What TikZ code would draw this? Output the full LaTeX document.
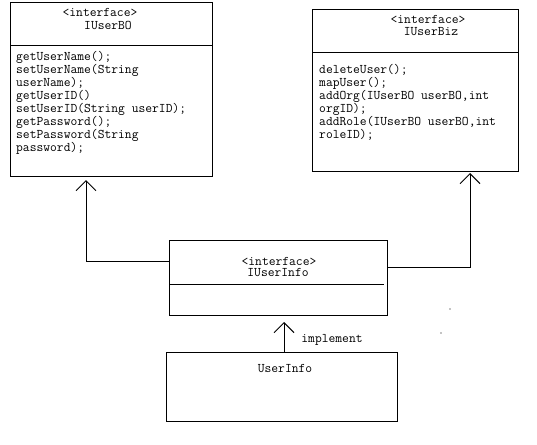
\documentclass[tikz,border=0pt]{standalone}
\usepackage{fontspec}
\usepackage{tikz}
\usetikzlibrary{calc}
\usetikzlibrary{arrows.meta}

\tikzset{
  umlbox/.style={draw, line width=1pt, rectangle, anchor=north west, inner sep=0pt},
  umltext/.style={font=\ttfamily\fontsize{13.2}{13}\selectfont, inner sep=0pt},
  umlops/.style={umltext, anchor=north west, align=left},
  impl/.style={line width=1pt, -{Straight Barb[length=10pt,width=20pt,line width=1pt]}}
}

\begin{document}
\begin{tikzpicture}[x=1pt,y=-1pt]
        \useasboundingbox (0,0) rectangle (537,444);

        \node[umlbox, minimum width=202pt, minimum height=174pt] (bo) at (10,2) {};
        \node[umlbox, minimum width=206pt, minimum height=162pt] (biz) at (312,9) {};
        \node[umlbox, minimum width=218pt, minimum height=75pt] (info) at (169,240) {};
        \node[umlbox, minimum width=231pt, minimum height=69pt] (user) at (166,352) {};

        \draw[line width=1pt] (bo.west |- 0,46) -- (bo.east |- 0,46);
        \draw[line width=1pt] (biz.west |- 0,52) -- (biz.east |- 0,52);
        \draw[line width=1pt] (info.west |- 0,284) -- (384,284);

        \node[umltext] (boStereo) at (100,12) {<interface>};
        \node[umltext] (boName) at (108,25) {IUserBO};
        \node[umlops] (boOps) at (16,51) {getUserName();\\setUserName(String\\userName);\\getUserID()\\setUserID(String userID);\\getPassword();\\setPassword(String\\password);};

        \node[umltext] (bizStereo) at (428,19) {<interface>};
        \node[umltext] (bizName) at (431,32) {IUserBiz};
        \node[umlops] (bizOps) at (319,64) {deleteUser();\\mapUser();\\addOrg(IUserBO userBO,int\\orgID);\\addRole(IUserBO userBO,int\\roleID);};

        \node[umltext] (infoStereo) at (279,261) {<interface>};
        \node[umltext] (infoName) at (278,273) {IUserInfo};

        \node[umltext] (userName) at (285,369) {UserInfo};

        \coordinate (boTip) at (86,180);
        \coordinate (bizTip) at (470,173);
        \coordinate (infoTip) at (284,322);

        \draw[impl] ([yshift=-21pt]info.north west) -| (boTip);
        \draw[impl] ([yshift=-27pt]info.north east) -| (bizTip);
        \draw[impl] (user.north -| infoTip) -- (infoTip);

        \node[umltext] (implLbl) at (332,340) {implement};

        \fill (450,309) circle (0.6pt);
        \fill (441,333) circle (0.6pt);
\end{tikzpicture}
\end{document}
